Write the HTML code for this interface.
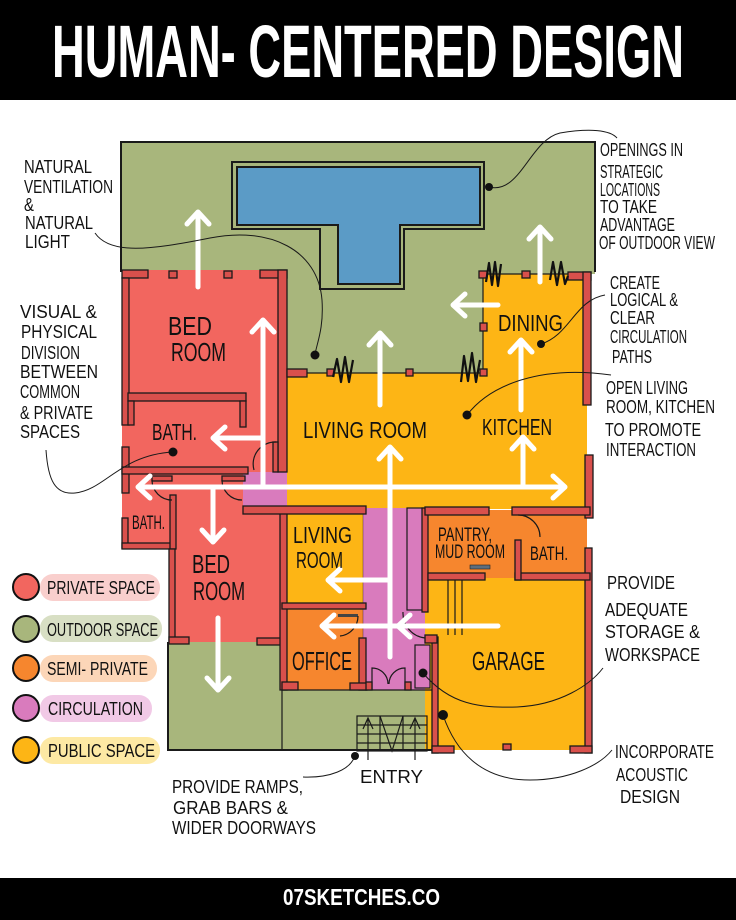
<!DOCTYPE html>
<html><head><meta charset="utf-8"><style>
html,body{margin:0;padding:0;background:#fff;}
svg{display:block;}
text{font-family:"Liberation Sans Narrow","Liberation Sans",sans-serif;fill:#111;}
.w{fill:#d9504c;stroke:#1a1a1a;stroke-width:1.3;}
.ln{fill:none;stroke:#1a1a1a;stroke-width:1.2;}
.th{fill:none;stroke:#1a1a1a;stroke-width:2;}
.ar{fill:none;stroke:#fff;stroke-width:5;stroke-linecap:round;stroke-linejoin:round;}
.cn{fill:none;stroke:#1a1a1a;stroke-width:1;}
.zz{fill:none;stroke:#111;stroke-width:2.2;stroke-linejoin:round;}
</style></head><body>
<svg width="736" height="920" viewBox="0 0 736 920" xmlns="http://www.w3.org/2000/svg">
<rect width="736" height="920" fill="#fff"/>
<!-- header -->
<rect x="0" y="0" width="736" height="100" fill="#000"/>
<text x="52" y="77" font-size="74" font-weight="bold" textLength="632" lengthAdjust="spacingAndGlyphs" style="fill:#fff">HUMAN- CENTERED DESIGN</text>
<!-- footer -->
<rect x="0" y="878" width="736" height="42" fill="#000"/>
<text x="283" y="905" font-size="23" font-weight="bold" textLength="157" lengthAdjust="spacingAndGlyphs" style="fill:#fff">07SKETCHES.CO</text>

<!-- ===== fills ===== -->
<rect x="122" y="142" width="473" height="132" fill="#a8b67c"/>
<rect x="287" y="272" width="196" height="102" fill="#a8b67c"/>
<!-- pool -->
<path d="M232,162 H484 V229 H404 V289 H320 V229 H232 Z" class="th"/>
<path d="M237,167 H480 V225 H400 V284 H338 V225 H237 Z" fill="#5b9bc6" stroke="#1a1a1a" stroke-width="2"/>
<!-- upper bedroom + bath -->
<rect x="122" y="270" width="165" height="206" fill="#f2665f"/>
<!-- yellow public -->
<rect x="287" y="373" width="300" height="136" fill="#fdb515"/>
<rect x="483" y="274" width="104" height="100" fill="#fdb515"/>
<!-- pink near top -->
<rect x="243" y="472" width="44" height="37" fill="#d97bbd"/>
<!-- lower bath + bedroom -->
<rect x="122" y="475" width="53" height="73" fill="#f2665f"/>
<rect x="170" y="475" width="73" height="168" fill="#f2665f"/>
<rect x="243" y="509" width="40" height="134" fill="#f2665f"/>
<!-- lower-left green -->
<rect x="168" y="642" width="114" height="108" fill="#a8b67c"/>
<!-- living2 & office -->
<rect x="287" y="512" width="76" height="94" fill="#fdb515"/>
<rect x="287" y="606" width="76" height="84" fill="#f6862e"/>
<!-- corridor -->
<rect x="363" y="508" width="62" height="182" fill="#d97bbd"/>
<!-- entry green -->
<rect x="282" y="690" width="150" height="60" fill="#a8b67c"/>
<!-- pantry + bath -->
<rect x="425" y="510" width="162" height="68" fill="#f6862e"/>
<!-- garage -->
<rect x="425" y="578" width="162" height="172" fill="#fdb515"/>
<rect x="415" y="645" width="15" height="43" fill="#d97bbd" stroke="#1a1a1a" stroke-width="1.2"/>

<!-- ===== outlines ===== -->
<path d="M121,272 V142 H595 V272" class="th"/>
<path d="M483,274 V373 H307" class="ln"/>
<path d="M483,274 H570" class="ln"/>
<path d="M168,642 V750 H432" class="th"/>
<path d="M282,690 H432" class="ln"/>
<path d="M282,642 V750" class="ln"/>
<path d="M363,512 V690" class="ln" stroke-opacity="0.3"/>

<!-- ===== walls ===== -->
<rect class="w" x="122" y="270" width="26" height="8"/>
<rect class="w" x="169" y="271" width="8" height="7"/>
<rect class="w" x="224" y="271" width="8" height="7"/>
<rect class="w" x="260" y="270" width="27" height="8"/>
<rect class="w" x="278" y="270" width="9" height="202"/>
<rect class="w" x="122" y="278" width="7" height="147"/>
<rect class="w" x="128" y="393" width="118" height="8"/>
<rect class="w" x="240" y="401" width="6" height="26"/>
<rect class="w" x="128" y="401" width="6" height="24"/>
<rect class="w" x="122" y="447" width="7" height="46"/>
<rect class="w" x="122" y="467" width="126" height="7"/>
<rect class="w" x="273" y="442" width="5" height="30"/>
<rect class="w" x="287" y="369" width="20" height="8"/>
<!-- small squares -->
<rect class="w" x="327" y="369" width="7" height="7"/>
<rect class="w" x="406" y="369" width="7" height="7"/>
<rect class="w" x="480" y="369" width="7" height="7"/>
<rect class="w" x="480" y="323" width="7" height="8"/>
<rect class="w" x="479" y="271" width="8" height="7"/>
<rect class="w" x="522" y="271" width="8" height="7"/>
<!-- right walls -->
<rect class="w" x="568" y="272" width="23" height="8"/>
<rect class="w" x="583" y="272" width="8" height="133"/>
<rect class="w" x="585" y="455" width="8" height="63"/>
<rect class="w" x="585" y="548" width="7" height="205"/>
<!-- lower bath -->
<rect class="w" x="122" y="518" width="6" height="30"/>
<rect class="w" x="122" y="543" width="53" height="6"/>
<rect class="w" x="170" y="495" width="6" height="54"/>
<rect class="w" x="152" y="476" width="20" height="5"/>
<rect class="w" x="222" y="476" width="23" height="5"/>
<!-- lower bedroom -->
<rect class="w" x="169" y="549" width="6" height="94"/>
<rect class="w" x="169" y="637" width="20" height="7"/>
<rect class="w" x="257" y="638" width="25" height="7"/>
<rect class="w" x="280" y="507" width="7" height="183"/>
<rect class="w" x="243" y="506" width="123" height="8"/>
<!-- office -->
<rect class="w" x="282" y="603" width="84" height="6"/>
<rect class="w" x="359" y="638" width="7" height="52"/>
<rect class="w" x="350" y="683" width="17" height="7"/>
<rect class="w" x="282" y="682" width="16" height="8"/>
<rect x="338" y="614" width="20" height="3" fill="#444"/>
<path d="M358,616 A20,20 0 0 1 340,636" class="ln"/>
<!-- corridor / pantry -->
<rect x="407" y="508" width="16" height="102" fill="#d97bbd" stroke="#1a1a1a" stroke-width="1.2"/>
<rect class="w" x="422" y="508" width="6" height="104"/>
<rect class="w" x="425" y="507" width="64" height="8"/>
<rect class="w" x="512" y="507" width="78" height="8"/>
<rect class="w" x="428" y="573" width="57" height="7"/>
<rect class="w" x="515" y="573" width="75" height="7"/>
<rect class="w" x="515" y="540" width="6" height="40"/>
<rect x="470" y="565" width="20" height="4" fill="#5d6e7d" stroke="#222" stroke-width="0.6"/>
<path d="M518,515 A22,22 0 0 1 540,537" class="ln"/>
<!-- garage -->
<rect class="w" x="432" y="637" width="6" height="116"/>
<rect class="w" x="425" y="635" width="12" height="8"/>
<rect class="w" x="432" y="746" width="22" height="7"/>
<rect class="w" x="570" y="746" width="22" height="7"/>
<rect class="w" x="503" y="744" width="8" height="6"/>
<path d="M448,580 V635 M455,580 V635 M462,580 V635" class="ln"/>
<path d="M403,612 A25,25 0 0 0 425,638" class="ln"/>
<!-- entry doors -->
<path d="M372,690 V668 A16,16 0 0 1 388,684 M405,690 V668 A16,16 0 0 0 389,684" class="ln"/>
<rect class="w" x="366" y="682" width="6" height="8"/>
<rect class="w" x="405" y="682" width="6" height="8"/>
<!-- entry stairs -->
<rect x="357" y="716" width="70" height="35" class="ln" stroke-width="1.6"/>
<path d="M357,725 H427 M357,734 H427 M357,743 H427 M380,716 V751 M403,716 V751" class="ln" stroke-width="1.4"/>
<path d="M380,716 L392,751 L403,716" class="ln" stroke-width="1.4"/>
<path d="M363,729 L368,718 L373,729 M368,718 V760 M410,729 L415,718 L420,729 M415,718 V760" class="ln"/>
<!-- door arcs upper -->
<path d="M276,442 A22,22 0 0 0 254,470" class="ln"/>
<path d="M152,480 A20,20 0 0 0 172,500" class="ln"/>
<path d="M222,480 A20,20 0 0 0 242,500" class="ln"/>

<!-- zigzags -->
<path class="zz" d="M486,282 L489,263 L492,285 L495,262 L498,286 L501,264"/>
<path class="zz" d="M550,280 L553,262 L557,285 L561,262 L565,284 L568,276"/>
<path class="zz" d="M461,382 L464,356 L468,381 L472,353 L476,382 L480,360"/>
<path class="zz" d="M333,377 L337,359 L341,382 L345,357 L349,382 L353,360"/>

<!-- ===== arrows ===== -->
<g class="ar">
<path d="M198,287 V212 M187,224 L198,212 L209,224"/>
<path d="M263,487 V320 M252,332 L263,320 L274,332"/>
<path d="M263,438 H213 M225,427 L213,438 L225,449"/>
<path d="M380,405 V333 M369,345 L380,333 L391,345"/>
<path d="M498,305 H453 M465,294 L453,305 L465,316"/>
<path d="M540,282 V227 M529,239 L540,227 L551,239"/>
<path d="M521,410 V340 M510,352 L521,340 L532,352"/>
<path d="M523,485 V437 M512,449 L523,437 L534,449"/>
<path d="M390,657 V447 M379,459 L390,447 L401,459"/>
<path d="M138,487 H565 M150,476 L138,487 L150,498 M553,476 L565,487 L553,498"/>
<path d="M213,487 V542 M202,530 L213,542 L224,530"/>
<path d="M218,618 V690 M207,678 L218,690 L229,678"/>
<path d="M390,580 H328 M340,569 L328,580 L340,591"/>
<path d="M498,626 H322 M334,615 L322,626 L334,637 M410,615 L398,626 L410,637"/>
</g>

<!-- ===== connectors ===== -->
<path class="cn" d="M95,233 C110,255 150,250 210,238 C270,226 318,250 322,300 C324,330 316,345 315,355"/>
<path class="cn" d="M46,450 C48,480 55,495 75,493 C105,490 120,455 173,452"/>
<path class="cn" d="M489,187 C520,195 530,140 560,133 C590,128 610,130 617,138"/>
<path class="cn" d="M541,344 C570,335 575,300 605,295"/>
<path class="cn" d="M467,415 C490,385 540,365 611,375"/>
<path class="cn" d="M423,673 C450,705 480,708 517,707 C560,705 590,685 603,668"/>
<path class="cn" d="M443,715 C455,750 480,780 530,780 C570,780 600,765 612,750"/>
<path class="cn" d="M355,756 C350,770 330,778 303,777"/>
<g fill="#111">
<circle cx="315" cy="355" r="4.5"/><circle cx="173" cy="452" r="4.5"/>
<circle cx="489" cy="187" r="4"/><circle cx="541" cy="344" r="4"/>
<circle cx="467" cy="415" r="4.5"/><circle cx="423" cy="673" r="4.5"/>
<circle cx="443" cy="715" r="5"/><circle cx="355" cy="756" r="4"/>
</g>

<!-- ===== room labels ===== -->
<g font-size="26">
<text x="168" y="335" textLength="44" lengthAdjust="spacingAndGlyphs">BED</text>
<text x="171" y="361" textLength="55" lengthAdjust="spacingAndGlyphs">ROOM</text>
<text x="192" y="573" textLength="38" lengthAdjust="spacingAndGlyphs">BED</text>
<text x="193" y="600" textLength="52" lengthAdjust="spacingAndGlyphs">ROOM</text>
<text x="292" y="670" textLength="60" lengthAdjust="spacingAndGlyphs">OFFICE</text>
<text x="472" y="670" textLength="73" lengthAdjust="spacingAndGlyphs">GARAGE</text>
</g>
<g font-size="23">
<text x="152" y="440" textLength="45" lengthAdjust="spacingAndGlyphs">BATH.</text>
<text x="303" y="438" textLength="124" lengthAdjust="spacingAndGlyphs">LIVING ROOM</text>
<text x="482" y="435" textLength="70" lengthAdjust="spacingAndGlyphs">KITCHEN</text>
<text x="498" y="331" textLength="65" lengthAdjust="spacingAndGlyphs">DINING</text>
<text x="293" y="543" textLength="59" lengthAdjust="spacingAndGlyphs">LIVING</text>
<text x="296" y="568" textLength="47" lengthAdjust="spacingAndGlyphs">ROOM</text>
</g>
<g font-size="19">
<text x="132" y="529" textLength="33" lengthAdjust="spacingAndGlyphs">BATH.</text>
<text x="438" y="541" textLength="54" lengthAdjust="spacingAndGlyphs">PANTRY,</text>
<text x="435" y="558" textLength="70" lengthAdjust="spacingAndGlyphs">MUD ROOM</text>
<text x="530" y="560" textLength="38" lengthAdjust="spacingAndGlyphs">BATH.</text>
</g>

<!-- ===== annotations ===== -->
<g font-size="18">
<text x="24" y="173" textLength="68" lengthAdjust="spacingAndGlyphs">NATURAL</text>
<text x="24" y="193" textLength="89" lengthAdjust="spacingAndGlyphs">VENTILATION</text>
<text x="24" y="211" textLength="10" lengthAdjust="spacingAndGlyphs">&amp;</text>
<text x="25" y="229" textLength="68" lengthAdjust="spacingAndGlyphs">NATURAL</text>
<text x="25" y="248" textLength="45" lengthAdjust="spacingAndGlyphs">LIGHT</text>

<text x="20" y="318" textLength="77" lengthAdjust="spacingAndGlyphs">VISUAL &amp;</text>
<text x="21" y="338" textLength="76" lengthAdjust="spacingAndGlyphs">PHYSICAL</text>
<text x="21" y="359" textLength="59" lengthAdjust="spacingAndGlyphs">DIVISION</text>
<text x="20" y="378" textLength="78" lengthAdjust="spacingAndGlyphs">BETWEEN</text>
<text x="20" y="398" textLength="60" lengthAdjust="spacingAndGlyphs">COMMON</text>
<text x="20" y="419" textLength="73" lengthAdjust="spacingAndGlyphs">&amp; PRIVATE</text>
<text x="20" y="438" textLength="60" lengthAdjust="spacingAndGlyphs">SPACES</text>

<text x="600" y="156" textLength="83" lengthAdjust="spacingAndGlyphs">OPENINGS IN</text>
<text x="600" y="178" textLength="63" lengthAdjust="spacingAndGlyphs">STRATEGIC</text>
<text x="600" y="196" textLength="60" lengthAdjust="spacingAndGlyphs">LOCATIONS</text>
<text x="600" y="213" textLength="57" lengthAdjust="spacingAndGlyphs">TO TAKE</text>
<text x="600" y="231" textLength="75" lengthAdjust="spacingAndGlyphs">ADVANTAGE</text>
<text x="599" y="249" textLength="116" lengthAdjust="spacingAndGlyphs">OF OUTDOOR VIEW</text>

<text x="610" y="289" textLength="50" lengthAdjust="spacingAndGlyphs">CREATE</text>
<text x="610" y="306" textLength="68" lengthAdjust="spacingAndGlyphs">LOGICAL &amp;</text>
<text x="610" y="324" textLength="45" lengthAdjust="spacingAndGlyphs">CLEAR</text>
<text x="610" y="343" textLength="77" lengthAdjust="spacingAndGlyphs">CIRCULATION</text>
<text x="612" y="363" textLength="40" lengthAdjust="spacingAndGlyphs">PATHS</text>

<text x="606" y="394" textLength="82" lengthAdjust="spacingAndGlyphs">OPEN LIVING</text>
<text x="606" y="413" textLength="109" lengthAdjust="spacingAndGlyphs">ROOM, KITCHEN</text>
<text x="605" y="436" textLength="96" lengthAdjust="spacingAndGlyphs">TO PROMOTE</text>
<text x="606" y="456" textLength="90" lengthAdjust="spacingAndGlyphs">INTERACTION</text>

<text x="607" y="589" textLength="68" lengthAdjust="spacingAndGlyphs">PROVIDE</text>
<text x="605" y="616" textLength="83" lengthAdjust="spacingAndGlyphs">ADEQUATE</text>
<text x="605" y="638" textLength="95" lengthAdjust="spacingAndGlyphs">STORAGE &amp;</text>
<text x="605" y="661" textLength="95" lengthAdjust="spacingAndGlyphs">WORKSPACE</text>

<text x="615" y="758" textLength="99" lengthAdjust="spacingAndGlyphs">INCORPORATE</text>
<text x="616" y="781" textLength="72" lengthAdjust="spacingAndGlyphs">ACOUSTIC</text>
<text x="620" y="803" textLength="60" lengthAdjust="spacingAndGlyphs">DESIGN</text>

<text x="360" y="783" textLength="63" lengthAdjust="spacingAndGlyphs">ENTRY</text>
<text x="172" y="793" textLength="131" lengthAdjust="spacingAndGlyphs">PROVIDE  RAMPS,</text>
<text x="173" y="814" textLength="115" lengthAdjust="spacingAndGlyphs">GRAB BARS &amp;</text>
<text x="172" y="834" textLength="144" lengthAdjust="spacingAndGlyphs">WIDER DOORWAYS</text>
</g>

<!-- ===== legend ===== -->
<rect x="40" y="574" width="120" height="27" rx="13" fill="#f9cfcd"/>
<rect x="40" y="615" width="122" height="27" rx="13" fill="#d8dfc4"/>
<rect x="40" y="655" width="117" height="27" rx="13" fill="#fcd6b8"/>
<rect x="40" y="695" width="112" height="27" rx="13" fill="#f1c9e6"/>
<rect x="40" y="737" width="120" height="27" rx="13" fill="#fde9a4"/>
<g stroke="#111" stroke-width="2">
<circle cx="26" cy="587" r="13" fill="#f2665f"/>
<circle cx="26" cy="629" r="13" fill="#a8b67c"/>
<circle cx="26" cy="668" r="13" fill="#f6862e"/>
<circle cx="26" cy="708" r="13" fill="#d97bbd"/>
<circle cx="26" cy="750" r="13" fill="#fdb515"/>
</g>
<g font-size="18">
<text x="47" y="594" textLength="108" lengthAdjust="spacingAndGlyphs">PRIVATE SPACE</text>
<text x="47" y="636" textLength="111" lengthAdjust="spacingAndGlyphs">OUTDOOR SPACE</text>
<text x="47" y="675" textLength="101" lengthAdjust="spacingAndGlyphs">SEMI- PRIVATE</text>
<text x="48" y="715" textLength="95" lengthAdjust="spacingAndGlyphs">CIRCULATION</text>
<text x="48" y="757" textLength="107" lengthAdjust="spacingAndGlyphs">PUBLIC SPACE</text>
</g>
</svg>
</body></html>
